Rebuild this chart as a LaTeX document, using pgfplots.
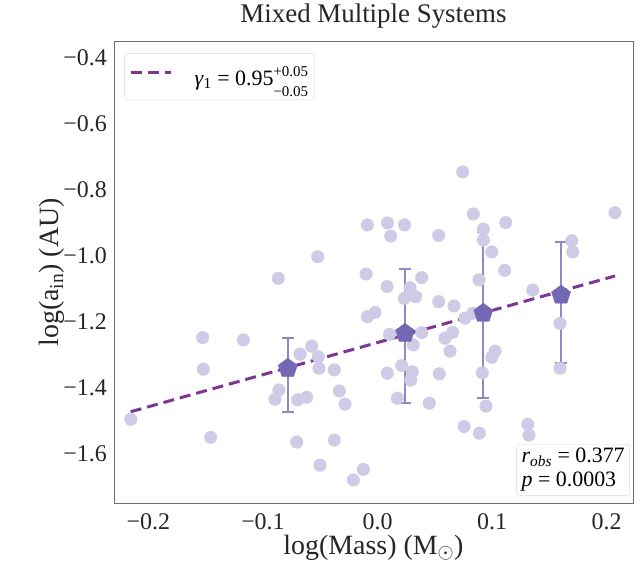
\documentclass[border=0pt]{standalone}
\usepackage{fontspec}
\setmainfont{Liberation Serif}
\newfontfamily\tnr{Liberation Serif}
\usepackage{pgfplots}
\pgfplotsset{compat=1.18}
\usetikzlibrary{plotmarks}
\definecolor{pts}{RGB}{205,203,230}
\definecolor{pent}{RGB}{116,104,182}
\definecolor{ebar}{RGB}{143,137,194}
\definecolor{fitc}{RGB}{125,55,145}
\definecolor{framec}{RGB}{110,110,110}

\pgfplotstableread{
x y
-0.2154 -1.496
-0.1526 -1.248
-0.1520 -1.344
-0.1456 -1.551
-0.1171 -1.255
-0.0866 -1.068
-0.0860 -1.407
-0.0895 -1.435
-0.0697 -1.437
-0.0618 -1.429
-0.0705 -1.565
-0.0676 -1.298
-0.0574 -1.274
-0.0517 -1.306
-0.0511 -1.341
-0.0377 -1.346
-0.0333 -1.410
-0.0284 -1.450
-0.0522 -1.0025
-0.0502 -1.635
-0.0377 -1.559
-0.0211 -1.680
-0.0124 -1.648
-0.0089 -0.906
-0.0100 -1.055
-0.0089 -1.185
-0.0022 -1.172
0.0087 -0.900
0.0115 -0.940
0.0236 -0.906
0.0083 -1.093
0.0234 -1.129
0.0105 -1.238
0.0211 -1.333
0.0086 -1.356
0.0304 -1.352
0.0290 -1.377
0.0173 -1.432
0.0284 -1.097
0.0386 -1.066
0.0333 -1.124
0.0386 -1.233
0.0312 -1.270
0.0452 -1.447
0.0539 -1.358
0.0534 -0.938
0.0534 -1.139
0.0668 -1.152
0.0656 -1.232
0.0589 -1.250
0.0633 -1.289
0.0744 -0.745
0.0836 -0.873
0.0923 -0.919
0.0923 -0.952
0.0997 -0.988
0.1119 -0.899
0.1110 -1.044
0.0886 -1.073
0.0764 -1.189
0.1026 -1.289
0.0997 -1.308
0.0915 -1.355
0.0947 -1.456
0.0755 -1.518
0.0889 -1.538
0.1311 -1.511
0.1322 -1.544
0.1355 -1.104
0.1593 -1.205
0.1593 -1.341
0.1695 -0.954
0.1704 -0.988
0.2073 -0.869
0.0831 -1.174
}\pts

\pgfplotstableread{
x y ep em
-0.0783 -1.341 0.091 0.132
0.0240 -1.235 0.195 0.212
0.0923 -1.174 0.246 0.258
0.1602 -1.119 0.161 0.207
}\bins

\newcommand\scr[1]{{\fontsize{15}{15}\selectfont #1}}

\begin{document}
\begin{tikzpicture}
\begin{axis}[
  scale only axis, width=519bp, height=461.3bp,
  xmin=-0.23, xmax=0.223, ymin=-1.75, ymax=-0.35,
  axis line style={draw=framec, line width=0.8bp},
  xtick={-0.2,-0.1,0,0.1,0.2},
  xticklabels={−0.2,−0.1,0.0,0.1,0.2},
  ytick={-1.6,-1.4,-1.2,-1.0,-0.8,-0.6,-0.4},
  yticklabels={−1.6,−1.4,−1.2,−1.0,−0.8,−0.6,−0.4},
  /pgf/number format/assume math mode=true,
  major tick length=0pt,
  tick label style={font=\tnr\fontsize{24}{28}\selectfont, text=black!85, inner sep=0pt},
  xticklabel style={anchor=north, yshift=-10bp},
  yticklabel style={anchor=east, xshift=-7bp},
  title={Mixed Multiple Systems},
  title style={font=\tnr\fontsize{27}{31}\selectfont, text=black!85, inner sep=0pt,
    at={(axis description cs:0.5,1)}, anchor=base, yshift=13bp},
  xlabel={log(Mass) (M$_\odot$)},
  ylabel={log(a\textsubscript{in}) (AU)},
  xlabel style={font=\tnr\fontsize{28}{32}\selectfont, text=black!85, inner sep=0pt,
    at={(axis description cs:0.5,0)}, anchor=north, yshift=-32bp},
  ylabel style={font=\tnr\fontsize{28}{32}\selectfont, text=black!85, inner sep=0pt,
    at={(axis description cs:-0.1195,0.5)}, anchor=center, rotate=0},
  legend style={at={(0.02,0.975)}, anchor=north west, draw=black!15, rounded corners=3bp,
    font=\tnr\fontsize{22}{26}\selectfont, inner xsep=4bp, inner ysep=11bp},
  legend cell align=left,
  legend image code/.code={\draw[#1] (0bp,4bp) -- (40bp,4bp); \path[draw=none] (-2bp,4bp) -- (62bp,4bp);},
]
\addplot[only marks, mark=*, mark size=6.3bp, color=pts, forget plot] table[x=x,y=y] {\pts};
\addplot[only marks, mark=pentagon*, mark size=10bp, color=pent, forget plot,
  error bars/.cd, y dir=both, y explicit,
  error bar style={ebar, line width=2bp},
  error mark options={ebar, line width=2bp, mark size=6bp, rotate=90}]
  table[x=x, y=y, y error plus=ep, y error minus=em] {\bins};
\addplot[fitc, line width=3bp, dash pattern=on 11bp off 6bp] coordinates {(-0.2154,-1.473) (0.2073,-1.061)};
\addlegendentry{\textit{γ}\textsubscript{1} = 0.95\makebox[0pt][l]{\raisebox{9bp}{\scr{+0.05}}}\raisebox{-11bp}{\scr{−0.05}}}
\node[anchor=south east, draw=black!15, rounded corners=3bp, fill=white, align=left,
  font=\tnr\fontsize{22}{24}\selectfont, inner xsep=5bp, inner ysep=4bp]
  at (rel axis cs:0.994,0.016) {\textit{r}\textsubscript{\textit{obs}} = 0.377\\\textit{p} = 0.0003};
\end{axis}
\pgfresetboundingbox
\path ([xshift=-114bp,yshift=-65bp]current axis.south west) rectangle ([xshift=8bp,yshift=41.7bp]current axis.north east);
\end{tikzpicture}
\end{document}
